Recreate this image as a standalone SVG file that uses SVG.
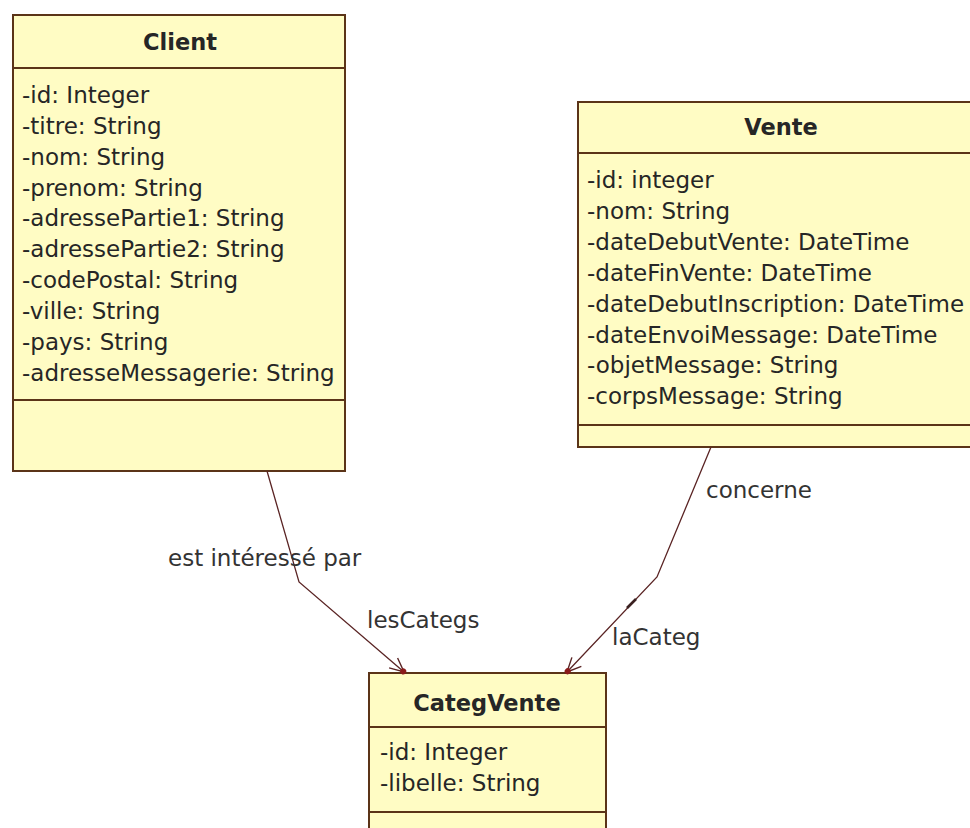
<svg xmlns="http://www.w3.org/2000/svg" width="970" height="828" viewBox="0 0 970 828">
<defs>
<style>
.box{fill:#fffcc4;stroke:#5b3418;stroke-width:2}
.sep{stroke:#5b3418;stroke-width:2}
.t{font-family:"DejaVu Sans",Verdana,sans-serif;font-size:23px;fill:#262626}
.h{font-family:"DejaVu Sans",Verdana,sans-serif;font-size:22.5px;font-weight:bold;fill:#262626;text-anchor:middle}
.lbl{font-family:"DejaVu Sans",Verdana,sans-serif;font-size:23px;fill:#333333}
.conn{fill:none;stroke:#5a2424;stroke-width:1.3}
</style>
<marker id="arr" viewBox="-17 -9 20 18" refX="0" refY="0" markerWidth="20" markerHeight="18" orient="auto" markerUnits="userSpaceOnUse">
<path d="M-14,-6.5 L0,0 L-14,6.5" fill="none" stroke="#5a2424" stroke-width="1.4"/>
<circle cx="-1" cy="0" r="3" fill="#8a1a1a"/>
</marker>
</defs>
<rect width="970" height="828" fill="#ffffff"/>

<g id="Client">
<rect class="box" x="13" y="15" width="332" height="456"/>
<line class="sep" x1="13" y1="68" x2="345" y2="68"/>
<line class="sep" x1="13" y1="400" x2="345" y2="400"/>
<text class="h" x="180" y="50">Client</text>
<text class="t" x="22" y="103">-id: Integer</text>
<text class="t" x="22" y="134">-titre: String</text>
<text class="t" x="22" y="165">-nom: String</text>
<text class="t" x="22" y="196">-prenom: String</text>
<text class="t" x="22" y="226">-adressePartie1: String</text>
<text class="t" x="22" y="257">-adressePartie2: String</text>
<text class="t" x="22" y="288">-codePostal: String</text>
<text class="t" x="22" y="319">-ville: String</text>
<text class="t" x="22" y="350">-pays: String</text>
<text class="t" x="22" y="381">-adresseMessagerie: String</text>
</g>

<g id="Vente">
<rect class="box" x="578" y="102" width="402" height="345"/>
<line class="sep" x1="578" y1="153" x2="980" y2="153"/>
<line class="sep" x1="578" y1="425" x2="980" y2="425"/>
<text class="h" x="781" y="135">Vente</text>
<text class="t" x="587" y="188">-id: integer</text>
<text class="t" x="587" y="219">-nom: String</text>
<text class="t" x="587" y="250">-dateDebutVente: DateTime</text>
<text class="t" x="587" y="281">-dateFinVente: DateTime</text>
<text class="t" x="587" y="312">-dateDebutInscription: DateTime</text>
<text class="t" x="587" y="343">-dateEnvoiMessage: DateTime</text>
<text class="t" x="587" y="373">-objetMessage: String</text>
<text class="t" x="587" y="404">-corpsMessage: String</text>
</g>

<g id="CategVente">
<rect class="box" x="369" y="673" width="237" height="170"/>
<line class="sep" x1="369" y1="727" x2="606" y2="727"/>
<line class="sep" x1="369" y1="812" x2="606" y2="812"/>
<text class="h" x="487" y="711">CategVente</text>
<text class="t" x="380" y="760">-id: Integer</text>
<text class="t" x="380" y="791">-libelle: String</text>
</g>

<g id="connectors">
<polyline class="conn" points="267,471 299,582 404,672" marker-end="url(#arr)"/>
<polyline class="conn" points="711,447 657,577 567,672" marker-end="url(#arr)"/>
<line x1="627" y1="608" x2="636" y2="599" stroke="#3a2020" stroke-width="2.6"/>
<text class="lbl" x="168" y="566">est intéressé par</text>
<text class="lbl" x="367" y="628">lesCategs</text>
<text class="lbl" x="706" y="498">concerne</text>
<text class="lbl" x="612" y="645">laCateg</text>
</g>
</svg>
